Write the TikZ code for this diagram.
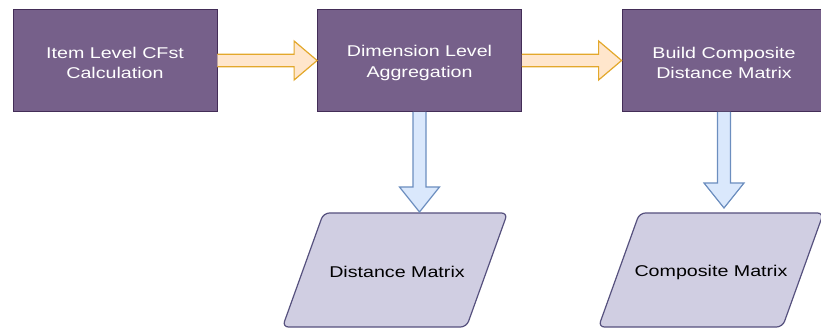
\documentclass[tikz,border=0pt]{standalone}
\usepackage{fontspec}
\setmainfont{Liberation Sans}
\newfontfamily\widefont[FakeStretch=1.26]{Liberation Sans}
\usetikzlibrary{calc}
\definecolor{boxfill}{HTML}{76608A}
\definecolor{boxdraw}{HTML}{432D57}
\definecolor{orfill}{HTML}{FFE6CC}
\definecolor{ordraw}{HTML}{E3A82B}
\definecolor{blfill}{HTML}{DAE8FC}
\definecolor{bldraw}{HTML}{6C8EBF}
\definecolor{pafill}{HTML}{D0CEE2}
\definecolor{padraw}{HTML}{56517E}
\tikzset{
  stagebox/.style={draw=boxdraw, fill=boxfill, line width=0.8pt, minimum width=204pt, minimum height=102pt,
    inner sep=0pt},
  stagetext/.style={text=white, align=center, inner sep=0pt, font=\widefont\fontsize{15.6pt}{20.5pt}\selectfont},
  datashape/.style={draw=padraw, fill=pafill, line width=1.2pt, rounded corners=6pt},
  datatext/.style={text=black, inner sep=0pt, font=\widefont\fontsize{15.6pt}{20.5pt}\selectfont},
  orarrow/.style={draw=ordraw, fill=orfill, line width=1.2pt, line join=miter},
  blarrow/.style={draw=bldraw, fill=blfill, line width=1.2pt, line join=miter}
}
\begin{document}
\begin{tikzpicture}[x=1pt,y=-1pt]
\useasboundingbox (0,0) rectangle (821,328);
% stage boxes
\node[stagebox, label={[stagetext,yshift=-2.5pt]center:Item Level CFst\\Calculation}] (b1) at (115,60.5) {};
\node[stagebox, label={[stagetext,yshift=-2.5pt]center:Dimension Level\\Aggregation}] (b2) at (419.5,60.5) {};
\node[stagebox, label={[stagetext,yshift=-2.5pt]center:Build Composite\\Distance Matrix}] (b3) at (724,60.5) {};
% data shapes
\coordinate (c1) at (395,270);
\coordinate (c2) at (711,270);
\draw[datashape] ($(c1)+(-71.5,-57)$) -- ($(c1)+(112.5,-57)$) -- ($(c1)+(71.5,57)$) -- ($(c1)+(-112.5,57)$) -- cycle;
\draw[datashape] ($(c2)+(-71.5,-57)$) -- ($(c2)+(112.5,-57)$) -- ($(c2)+(71.5,57)$) -- ($(c2)+(-112.5,57)$) -- cycle;
\node[datatext] (p1) at ($(c1)+(2,1.5)$) {Distance Matrix};
\node[datatext] (p2) at ($(c2)+(0,2)$) {Composite Matrix};
\coordinate (p1top) at ($(c1)+(0,-57)$);
\coordinate (p2top) at ($(c2)+(0,-57)$);
% horizontal block arrows
\filldraw[orarrow] ($(b1.east)+(0,-6.3)$) -- ($(b2.west)+(-23,-6.3)$) -- ($(b2.west)+(-23,-19.5)$)
  -- (b2.west) -- ($(b2.west)+(-23,19.5)$) -- ($(b2.west)+(-23,6.3)$) -- ($(b1.east)+(0,6.3)$);
\filldraw[orarrow] ($(b2.east)+(0,-6.3)$) -- ($(b3.west)+(-23,-6.3)$) -- ($(b3.west)+(-23,-19.5)$)
  -- (b3.west) -- ($(b3.west)+(-23,19.5)$) -- ($(b3.west)+(-23,6.3)$) -- ($(b2.east)+(0,6.3)$);
% vertical block arrows
\coordinate (t1) at ($(b2.south |- p1top)+(0,-1)$);
\coordinate (t2) at ($(b3.south |- p2top)+(0,-5)$);
\filldraw[blarrow] ($(b2.south)+(-6.5,0)$) -- ($(t1)+(-6.5,-25)$) -- ($(t1)+(-20,-25)$) -- (t1)
  -- ($(t1)+(20,-25)$) -- ($(t1)+(6.5,-25)$) -- ($(b2.south)+(6.5,0)$);
\filldraw[blarrow] ($(b3.south)+(-6.5,0)$) -- ($(t2)+(-6.5,-25)$) -- ($(t2)+(-20,-25)$) -- (t2)
  -- ($(t2)+(20,-25)$) -- ($(t2)+(6.5,-25)$) -- ($(b3.south)+(6.5,0)$);
\end{tikzpicture}
\end{document}
